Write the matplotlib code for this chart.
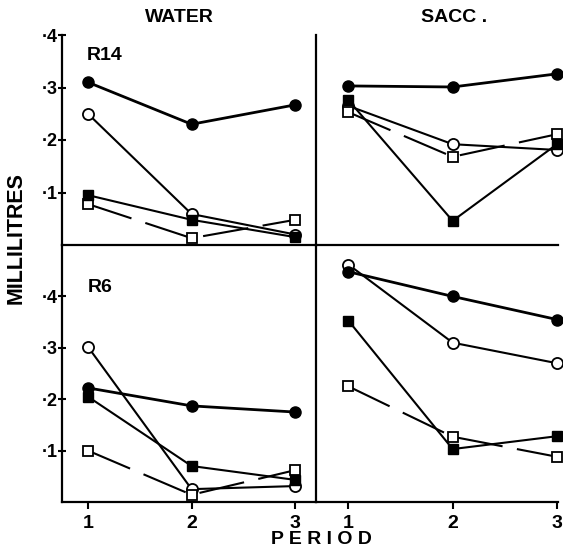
import matplotlib
matplotlib.use("Agg")
import matplotlib.pyplot as plt

plt.rcParams['font.family'] = ['Liberation Sans', 'DejaVu Sans']
plt.rcParams['font.weight'] = 'bold'

periods = [1, 2, 3]
period_labels = ['1', '2', '3']
ytick_vals = [0.1, 0.2, 0.3, 0.4]
ytick_labels = ['·1', '·2', '·3', '·4']

# R14 / WATER
r14_water_fc = [0.310, 0.230, 0.267]
r14_water_oc = [0.250, 0.059, 0.020]
r14_water_fs = [0.095, 0.048, 0.015]
r14_water_os = [0.078, 0.013, 0.048]
# R14 / SACC.
r14_sacc_fc = [0.303, 0.301, 0.326]
r14_sacc_oc = [0.265, 0.192, 0.181]
r14_sacc_fs = [0.276, 0.046, 0.192]
r14_sacc_os = [0.253, 0.168, 0.211]
# R6 / WATER
r6_water_fc = [0.222, 0.187, 0.175]
r6_water_oc = [0.302, 0.025, 0.031]
r6_water_fs = [0.205, 0.070, 0.043]
r6_water_os = [0.100, 0.014, 0.062]
# R6 / SACC.
r6_sacc_fc = [0.448, 0.400, 0.355]
r6_sacc_oc = [0.462, 0.310, 0.270]
r6_sacc_fs = [0.353, 0.103, 0.128]
r6_sacc_os = [0.225, 0.127, 0.088]

W, H = 563, 551
fig = plt.figure(figsize=(W / 100, H / 100), dpi=100)

def fx(px):
    return px / W

def fy(py):
    return 1 - py / H

xl, xm, xr = 62, 316, 558
yt, ymid, yb = 35, 245, 502

ax_tl = fig.add_axes([fx(xl), fy(ymid), fx(xm - xl), (ymid - yt) / H])
ax_tr = fig.add_axes([fx(xm), fy(ymid), fx(xr - xm), (ymid - yt) / H])
ax_bl = fig.add_axes([fx(xl), fy(yb), fx(xm - xl), (yb - ymid) / H])
ax_br = fig.add_axes([fx(xm), fy(yb), fx(xr - xm), (yb - ymid) / H])

lw = 1.5
def draw(ax, fc, oc, fs, os_):
    ax.plot(periods, oc, color='black', lw=lw, clip_on=False,
            marker='o', ms=8, mfc='white', mec='black', mew=1.3, zorder=3)
    ax.plot(periods, os_, color='black', lw=lw, ls=(0, (22, 7)), clip_on=False,
            marker='s', ms=6.5, mfc='white', mec='black', mew=1.3, zorder=4)
    ax.plot(periods, fs, color='black', lw=lw, clip_on=False,
            marker='s', ms=6.5, mfc='black', mec='black', zorder=5)
    ax.plot(periods, fc, color='black', lw=2.0, clip_on=False,
            marker='o', ms=8, mfc='black', mec='black', zorder=6)

draw(ax_tl, r14_water_fc, r14_water_oc, r14_water_fs, r14_water_os)
draw(ax_tr, r14_sacc_fc, r14_sacc_oc, r14_sacc_fs, r14_sacc_os)
draw(ax_bl, r6_water_fc, r6_water_oc, r6_water_fs, r6_water_os)
draw(ax_br, r6_sacc_fc, r6_sacc_oc, r6_sacc_fs, r6_sacc_os)

for ax in (ax_tl, ax_bl):
    ax.set_xlim(0.75, 3.2)
for ax in (ax_tr, ax_br):
    ax.set_xlim(0.69, 3.01)
for ax in (ax_tl, ax_tr):
    ax.set_ylim(0, 0.40)
for ax in (ax_bl, ax_br):
    ax.set_ylim(0, 0.50)

for ax in (ax_tl, ax_tr, ax_bl, ax_br):
    ax.patch.set_alpha(0)
    for s in ('top', 'right'):
        ax.spines[s].set_visible(False)
    ax.spines['left'].set_linewidth(1.6)
    ax.spines['bottom'].set_linewidth(1.6)
    ax.tick_params(width=1.5, length=5)

for ax in (ax_tl, ax_bl):
    ax.set_yticks(ytick_vals)
    ax.set_yticklabels(ytick_labels, fontsize=13, fontweight='bold')
    ax.tick_params(axis='y', direction='inout', length=6, pad=0)
for ax in (ax_tr, ax_br):
    ax.set_yticks([])
for ax in (ax_tl, ax_tr):
    ax.set_xticks([])
for ax in (ax_bl, ax_br):
    ax.set_xticks(periods)
    ax.set_xticklabels(period_labels, fontsize=14, fontweight='bold')
    ax.tick_params(axis='x', direction='out', length=5, pad=4)

ax_tl.text(0.098, 0.90, 'R14', transform=ax_tl.transAxes, fontsize=14,
           fontweight='bold', va='center', ha='left')
ax_bl.text(0.10, 0.833, 'R6', transform=ax_bl.transAxes, fontsize=14,
           fontweight='bold', va='center', ha='left')

fig.text(fx(179), fy(18), 'WATER', fontsize=14, fontweight='bold',
         ha='center', va='center')
fig.text(fx(454), fy(18), 'SACC .', fontsize=14, fontweight='bold',
         ha='center', va='center')
fig.text(fx(16), fy(238), 'MILLILITRES', fontsize=15.5, fontweight='bold',
         rotation=90, ha='center', va='center')
fig.text(fx(321), fy(540), 'P E R I O D', fontsize=14, fontweight='bold',
         ha='center', va='center')

fig.savefig('out.png', dpi=100)
